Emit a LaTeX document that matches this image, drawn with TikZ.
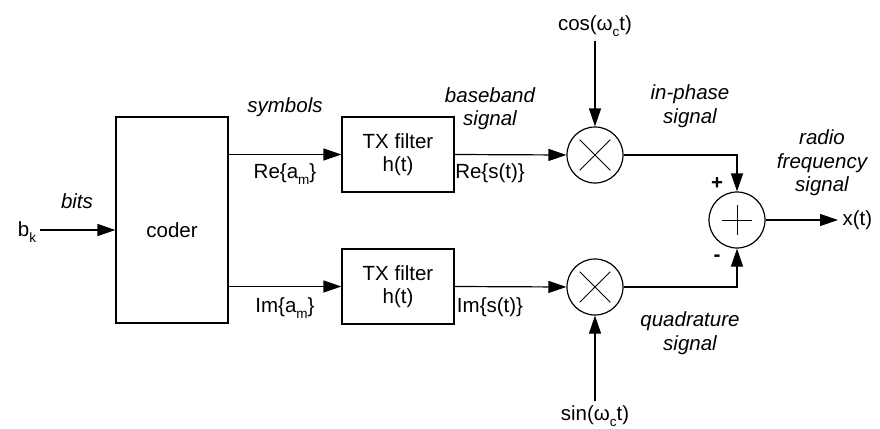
\documentclass[tikz,border=0pt]{standalone}
\usepackage{fontspec}
\setmainfont{Liberation Sans}
\usepackage{tikz}
\usetikzlibrary{arrows.meta}
\newcommand{\lowsub}[1]{\raisebox{-0.32em}{\fontsize{13.5}{13.5}\selectfont #1}}

\begin{document}
\begin{tikzpicture}[x=1pt, y=-1pt, line width=1.2pt,
	font=\fontsize{20.5}{23.5}\selectfont,
	blk/.style={draw, rectangle, inner sep=0pt, align=center},
	mixer/.style={draw, circle, minimum size=56pt, inner sep=0pt},
	sig/.style={align=center, inner sep=0pt, font=\fontsize{20.5}{23.5}\selectfont\itshape},
	txt/.style={inner sep=0pt},
	sgn/.style={inner sep=0pt, font=\fontsize{20.5}{23.5}\selectfont\bfseries},
	>={Triangle[length=18pt,width=12pt]}]
	\useasboundingbox (0,0) rectangle (880,428);
	\node[blk, minimum width=112pt, minimum height=206pt] (coder) at (172,220) {};
	\node[txt] (coderlbl) at (172,230) {coder};
	\node[anchor=east] (bk) at (40,232) {b\lowsub{k}};
	\node[sig] (bits) at (77,201) {bits};
	\node[blk, minimum width=112pt, minimum height=75pt] (f1) at (398,154.5) {TX filter\\h(t)};
	\node[blk, minimum width=112pt, minimum height=75pt] (f2) at (398,286.5) {TX filter\\h(t)};
	\node[mixer] (m1) at (595,155) {};
	\node[mixer] (m2) at (595,287) {};
	\node[mixer] (sum) at (737,220) {};
	\node (cos) at (595,26) {cos(ω\lowsub{c}t)};
	\node (sin) at (595,416) {sin(ω\lowsub{c}t)};
	\node[anchor=west, inner sep=4pt] (xt) at (838,220) {x(t)};
	\node[sig] (symbols) at (285,107) {symbols};
	\node[txt] (rea) at (285,174) {Re\{a\lowsub{m}\}};
	\node[txt] (ima) at (285,308) {Im\{a\lowsub{m}\}};
	\node[sig] (baseband) at (490,108.5) {baseband\\signal};
	\node[txt] (res) at (490,173) {Re\{s(t)\}};
	\node[txt] (ims) at (490,307) {Im\{s(t)\}};
	\node[sig] (inphase) at (690,106) {in-phase\\signal};
	\node[sig] (quad) at (690,333) {quadrature\\signal};
	\node[sig] (rf) at (822,163) {radio\\frequency\\signal};
	\node[sgn] (plus) at (717,183) {+};
	\node[sgn] (minus) at (717,258) {-};
	\draw[line width=0.9pt, shorten >=7pt, shorten <=7pt] (m1.north west) -- (m1.south east);
	\draw[line width=0.9pt, shorten >=7pt, shorten <=7pt] (m1.south west) -- (m1.north east);
	\draw[line width=0.9pt, shorten >=7pt, shorten <=7pt] (m2.north west) -- (m2.south east);
	\draw[line width=0.9pt, shorten >=7pt, shorten <=7pt] (m2.south west) -- (m2.north east);
	\draw[line width=0.9pt, shorten >=14pt, shorten <=14pt] (sum.north) -- (sum.south);
	\draw[line width=0.9pt, shorten >=14pt, shorten <=14pt] (sum.west) -- (sum.east);
	\draw[->] (bk.east |- coderlbl) -- (coderlbl -| coder.west);
	\draw[->] (coder.east |- f1.west) -- (f1.west);
	\draw[->] (coder.east |- f2.west) -- (f2.west);
	\draw[->] (f1.east) -- (m1.west);
	\draw[->] (f2.east) -- (m2.west);
	\draw[->] (cos.south) -- (m1.north);
	\draw[->] (sin.north) -- (m2.south);
	\draw[->] (m1.east) -| (sum.north);
	\draw[->] (m2.east) -| (sum.south);
	\draw[->] (sum.east) -- (xt.west);
\end{tikzpicture}
\end{document}
